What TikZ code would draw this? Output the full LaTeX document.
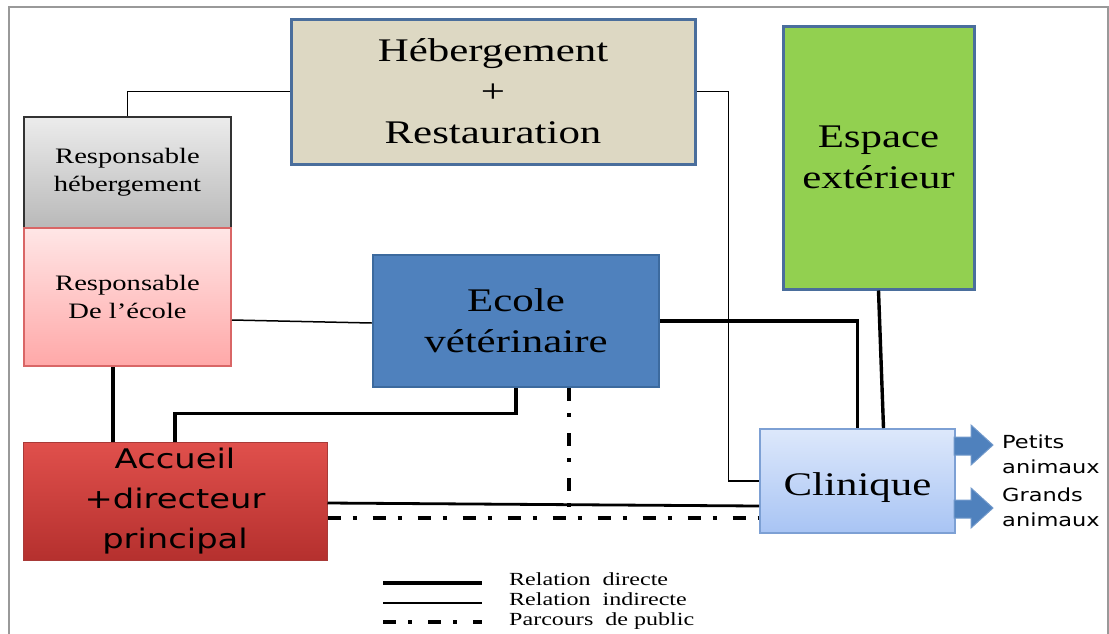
\documentclass[tikz,border=0pt]{standalone}
\usepackage{fontspec}
\setmainfont{Liberation Serif}[FakeStretch=1.3]
\newfontfamily\boxsans{DejaVu Sans}[FakeStretch=1.25]

\definecolor{hebfill}{HTML}{DDD8C3}
\definecolor{steelline}{HTML}{4A6E9C}
\definecolor{ecolefill}{HTML}{4F81BD}
\definecolor{ecoleline}{HTML}{3C6A9E}
\definecolor{espacefill}{HTML}{92D050}
\definecolor{pinktop}{HTML}{FFE6E6}
\definecolor{pinkbottom}{HTML}{FFA8A8}
\definecolor{pinkline}{HTML}{D96666}
\definecolor{clintop}{HTML}{DDE8FB}
\definecolor{clinbottom}{HTML}{A8C4F4}
\definecolor{clinline}{HTML}{7DA0D4}
\definecolor{redtop}{HTML}{E0504C}
\definecolor{redbottom}{HTML}{B5302E}
\definecolor{redline}{HTML}{A83A38}
\definecolor{arrowblue}{HTML}{4F81BD}
\definecolor{arrowedge}{HTML}{7199CB}

\begin{document}
\begin{tikzpicture}[
  x=1pt,y=-1pt,
  box/.style={draw,inner sep=0pt,align=center,text=black},
  big/.style={font=\fontsize{33}{41}\selectfont},
  small/.style={font=\fontsize{22}{28}\selectfont},
  sansbig/.style={font=\boxsans\fontsize{27}{40}\selectfont},
  direct/.style={line width=3.4pt},
  indirect/.style={line width=1.5pt},
  parcours/.style={line width=3.4pt,dash pattern=on 13pt off 12pt on 4pt off 16pt},
  blockarrow/.style={fill=arrowblue,draw=arrowedge,line width=1pt},
  legtext/.style={anchor=base west,inner sep=0pt,font=\fontsize{18.5}{20}\selectfont}
]
  \useasboundingbox (0,0) rectangle (1109,633);
  \draw[gray!80,line width=1.5pt] (9,640) |- (1108,7) -- (1108,640);

  % boxes
  \node[box,big,fill=hebfill,draw=steelline,line width=3pt,
    minimum width=404pt,minimum height=145pt] (heb) at (493,91.5)
    {Hébergement\\+\\Restauration};
  \node[box,small,top color=gray!15,bottom color=gray!55,draw=black!80,line width=2pt,
    minimum width=207pt,minimum height=111pt] (respheb) at (127.5,172.5)
    {Responsable\\hébergement};
  \node[box,small,top color=pinktop,bottom color=pinkbottom,draw=pinkline,line width=2pt,
    minimum width=207pt,minimum height=138pt] (respecole) at (127.5,297)
    {Responsable\\De l’école};
  \node[box,big,fill=ecolefill,draw=ecoleline,line width=2.5pt,
    minimum width=286pt,minimum height=132pt] (ecole) at (516,321)
    {Ecole\\vétérinaire};
  \node[box,big,fill=espacefill,draw=steelline,line width=3pt,
    minimum width=191pt,minimum height=263pt] (espace) at (878.5,157.5)
    {Espace\\extérieur};
  \node[box,big,top color=clintop,bottom color=clinbottom,draw=clinline,line width=2pt,
    minimum width=195pt,minimum height=104pt,text depth=0pt] (clin) at (857.5,481)
    {\raisebox{-6pt}{Clinique}};
  \node[box,sansbig,top color=redtop,bottom color=redbottom,draw=redline,line width=1pt,
    minimum width=304pt,minimum height=118pt] (accueil) at (175,501)
    {Accueil\\+directeur\\principal};

  % relations
  \draw[indirect] (heb.west) -| (respheb.north);
  \draw[indirect] (heb.east) -- ++(32,0) |- (clin.west);
  \draw[indirect] ([yshift=-23pt]respecole.east) -- ([yshift=-2pt]ecole.west);
  \draw[direct] ([xshift=-62pt]accueil.north) -- ([xshift=-62pt]accueil.north |- respecole.south);
  \draw[direct] (accueil.north) -- ++(0,-28) -| (ecole.south);
  \draw[direct] (ecole.east) -| (clin.north);
  \draw[direct] (espace.south) -- ([xshift=26pt]clin.north);
  \draw[direct,line width=2.8pt] ([yshift=-2pt]accueil.east) -- ([yshift=-25pt]clin.west);

  % parcours
  \coordinate (pubA) at ([yshift=-17pt]accueil.east);
  \coordinate (pubB) at ([yshift=-37pt]clin.west);
  \draw[parcours] (pubA) -- (pubB);
  \draw[parcours] ([xshift=53pt]ecole.south) -- ([xshift=53pt]ecole.south |- pubA);

  % sorties clinique
  \fill[blockarrow,shift={(clin.east)}] (-2,-44) -- (15,-44) -- (15,-56) -- (37,-36)
    -- (15,-16) -- (15,-26) -- (-2,-26) -- cycle;
  \fill[blockarrow,shift={(clin.east)}] (-2,19) -- (15,19) -- (15,7) -- (37,27)
    -- (15,47) -- (15,37) -- (-2,37) -- cycle;
  \node[anchor=west,inner sep=0pt,align=left,font=\boxsans\fontsize{18}{25}\selectfont] (petits)
    at (1002,454) {Petits\\animaux};
  \node[anchor=west,inner sep=0pt,align=left,font=\boxsans\fontsize{18}{25}\selectfont] (grands)
    at (1002,507) {Grands\\animaux};

  % legende
  \coordinate (lg1a) at (383,583);
  \coordinate (lg2a) at (383,603);
  \coordinate (lg3a) at (383,622);
  \draw[direct] (lg1a) -- ++(99,0);
  \draw[indirect] (lg2a) -- ++(99,0);
  \draw[parcours] (lg3a) -- ++(99,0);
  \node[legtext] (lg1) at (509,585) {Relation~ directe};
  \node[legtext] (lg2) at (509,605) {Relation~ indirecte};
  \node[legtext] (lg3) at (509,625) {Parcours~ de public};
\end{tikzpicture}
\end{document}
